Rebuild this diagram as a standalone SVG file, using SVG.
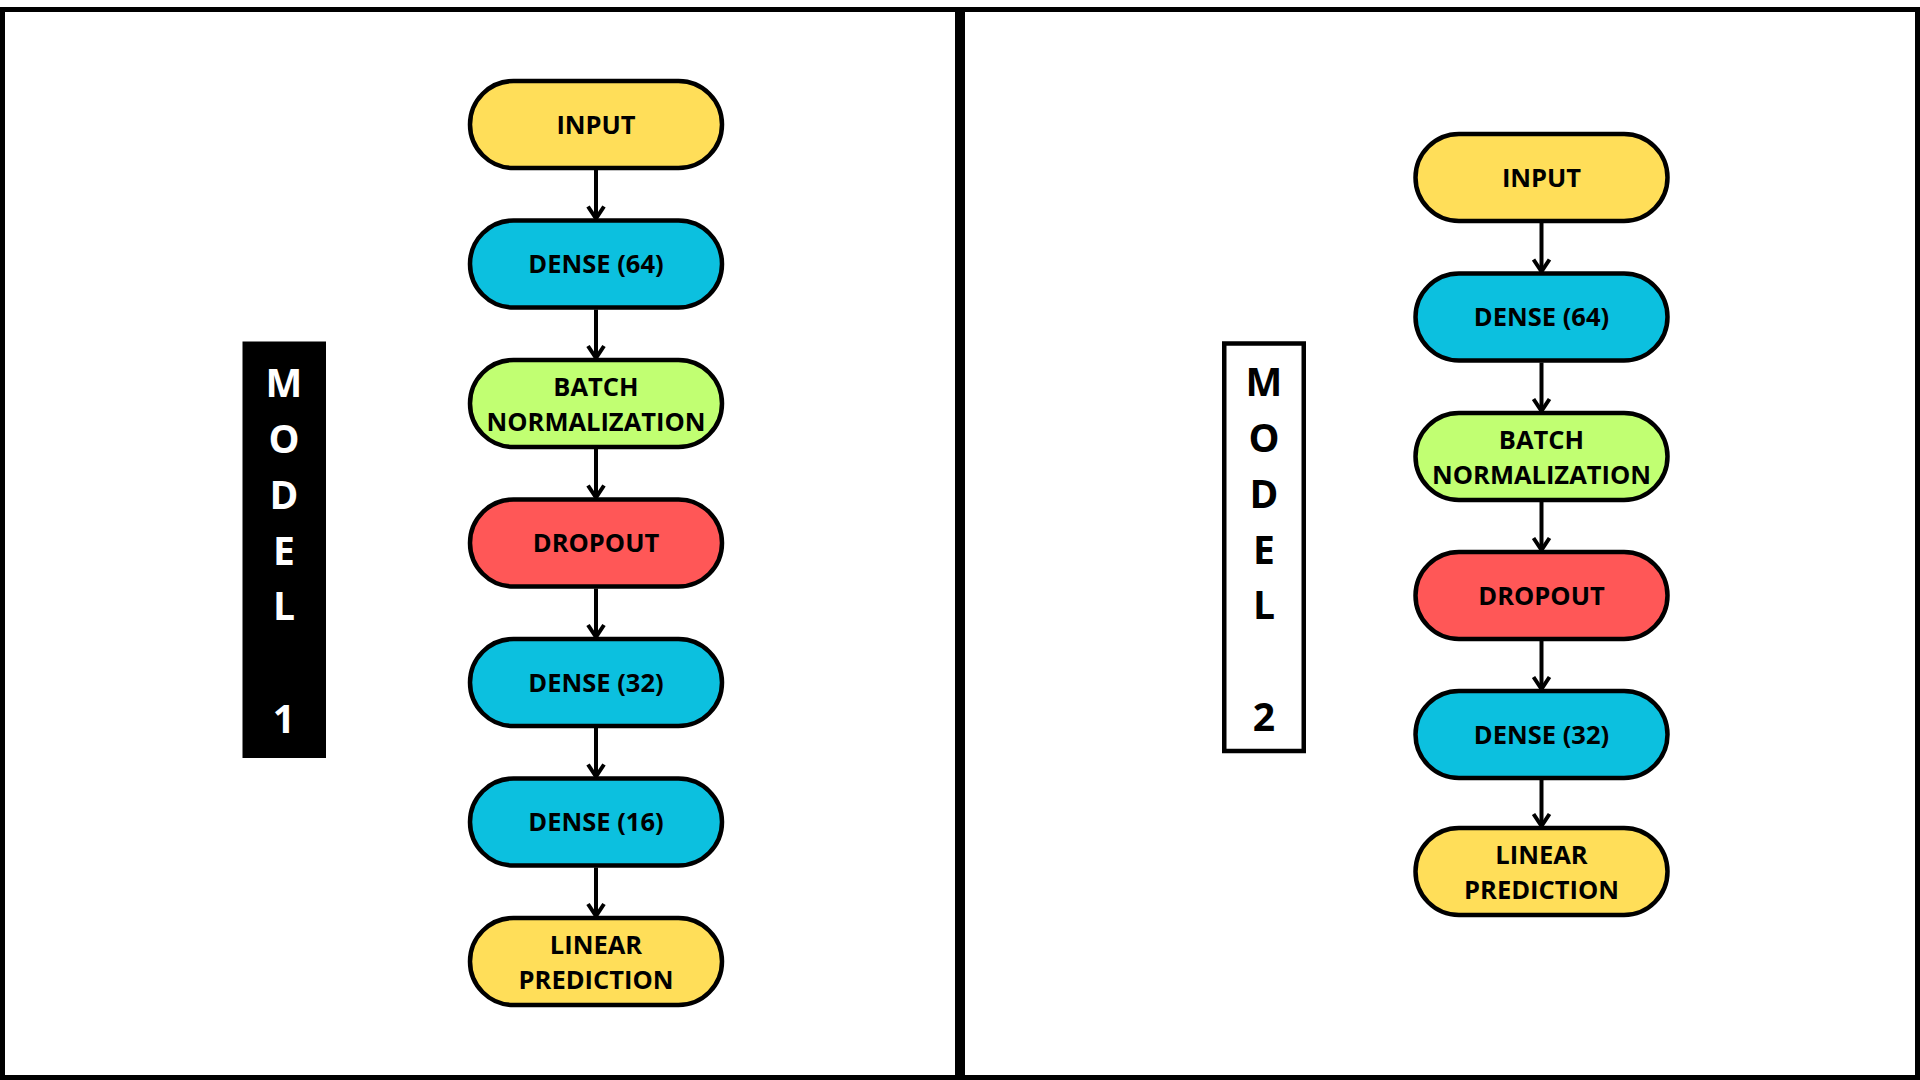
<svg xmlns="http://www.w3.org/2000/svg" width="1920" height="1080" viewBox="0 0 1920 1080">
<style>
.panel{fill:#ffffff;stroke:#000000;stroke-width:5}
.node rect{stroke:#000000;stroke-width:4.5}
.yellow{fill:#FFDE59}
.cyan{fill:#0CC0DF}
.green{fill:#C1FF72}
.red{fill:#FF5757}
.lbl{font-family:"Open Sans","Noto Sans",sans-serif;font-weight:700;font-size:25.5px;fill:#000000;text-anchor:middle}
.big{font-family:"Open Sans","Liberation Sans",sans-serif;font-weight:700;font-size:39px;text-anchor:middle}
.conn line{stroke:#000000;stroke-width:4;marker-end:url(#chev)}
</style>
<defs>
<marker id="chev" viewBox="-14 -10 16 20" refX="0" refY="0" markerWidth="16" markerHeight="20" markerUnits="userSpaceOnUse" orient="auto">
<path d="M-12,-8 L0,0 L-12,8" fill="none" stroke="#000000" stroke-width="4" stroke-linejoin="miter"/>
</marker>
</defs>
<rect x="0" y="0" width="1920" height="1080" fill="#ffffff"/>
<rect class="panel" x="2.5" y="9.5" width="955" height="1068"/>
<rect class="panel" x="962.5" y="9.5" width="955" height="1068"/>

<g id="model1-label">
<rect x="242.5" y="341.5" width="83.5" height="416.5" fill="#000000"/>
<g class="big" fill="#ffffff">
<text x="284" y="397">M</text>
<text x="284" y="453">O</text>
<text x="284" y="509">D</text>
<text x="284" y="565">E</text>
<text x="284" y="620">L</text>
<text x="284" y="733">1</text>
</g>
</g>

<g id="model2-label">
<rect x="1224.25" y="343.5" width="79.5" height="407.5" fill="#ffffff" stroke="#000000" stroke-width="4.5"/>
<g class="big" fill="#000000">
<text x="1264" y="396">M</text>
<text x="1264" y="452">O</text>
<text x="1264" y="508">D</text>
<text x="1264" y="564">E</text>
<text x="1264" y="619">L</text>
<text x="1264" y="731">2</text>
</g>
</g>

<g class="conn" id="connectors">
<line x1="596" y1="170" x2="596" y2="218.5"/>
<line x1="596" y1="309.5" x2="596" y2="358"/>
<line x1="596" y1="449" x2="596" y2="497.5"/>
<line x1="596" y1="588.5" x2="596" y2="637"/>
<line x1="596" y1="728" x2="596" y2="776.5"/>
<line x1="596" y1="867.5" x2="596" y2="916"/>
<line x1="1541.5" y1="223" x2="1541.5" y2="271.5"/>
<line x1="1541.5" y1="362.5" x2="1541.5" y2="411"/>
<line x1="1541.5" y1="502" x2="1541.5" y2="550"/>
<line x1="1541.5" y1="641" x2="1541.5" y2="689"/>
<line x1="1541.5" y1="780" x2="1541.5" y2="826"/>
</g>

<g id="m1-input" class="node"><rect class="yellow" x="470" y="81" width="252" height="87" rx="43.5"/><text class="lbl" x="596" y="133.5">INPUT</text></g>
<g id="m1-dense64" class="node"><rect class="cyan" x="470" y="220.5" width="252" height="87" rx="43.5"/><text class="lbl" x="596" y="273">DENSE (64)</text></g>
<g id="m1-batchnorm" class="node"><rect class="green" x="470" y="360" width="252" height="87" rx="43.5"/><text class="lbl" x="596" y="395.5">BATCH</text><text class="lbl" x="596" y="430.5">NORMALIZATION</text></g>
<g id="m1-dropout" class="node"><rect class="red" x="470" y="499.5" width="252" height="87" rx="43.5"/><text class="lbl" x="596" y="552">DROPOUT</text></g>
<g id="m1-dense32" class="node"><rect class="cyan" x="470" y="639" width="252" height="87" rx="43.5"/><text class="lbl" x="596" y="691.5">DENSE (32)</text></g>
<g id="m1-dense16" class="node"><rect class="cyan" x="470" y="778.5" width="252" height="87" rx="43.5"/><text class="lbl" x="596" y="831">DENSE (16)</text></g>
<g id="m1-linear" class="node"><rect class="yellow" x="470" y="918" width="252" height="87" rx="43.5"/><text class="lbl" x="596" y="953.5">LINEAR</text><text class="lbl" x="596" y="988.5">PREDICTION</text></g>

<g id="m2-input" class="node"><rect class="yellow" x="1415.5" y="134" width="252" height="87" rx="43.5"/><text class="lbl" x="1541.5" y="186.5">INPUT</text></g>
<g id="m2-dense64" class="node"><rect class="cyan" x="1415.5" y="273.5" width="252" height="87" rx="43.5"/><text class="lbl" x="1541.5" y="326">DENSE (64)</text></g>
<g id="m2-batchnorm" class="node"><rect class="green" x="1415.5" y="413" width="252" height="87" rx="43.5"/><text class="lbl" x="1541.5" y="448.5">BATCH</text><text class="lbl" x="1541.5" y="483.5">NORMALIZATION</text></g>
<g id="m2-dropout" class="node"><rect class="red" x="1415.5" y="552" width="252" height="87" rx="43.5"/><text class="lbl" x="1541.5" y="604.5">DROPOUT</text></g>
<g id="m2-dense32" class="node"><rect class="cyan" x="1415.5" y="691" width="252" height="87" rx="43.5"/><text class="lbl" x="1541.5" y="743.5">DENSE (32)</text></g>
<g id="m2-linear" class="node"><rect class="yellow" x="1415.5" y="828" width="252" height="87" rx="43.5"/><text class="lbl" x="1541.5" y="863.5">LINEAR</text><text class="lbl" x="1541.5" y="898.5">PREDICTION</text></g>
</svg>
